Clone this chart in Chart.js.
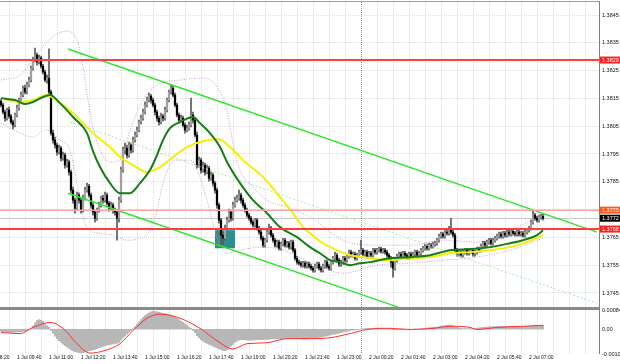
<!DOCTYPE html>
<html><head><meta charset="utf-8">
<script src="https://cdn.jsdelivr.net/npm/chart.js@4.4.1/dist/chart.umd.min.js"></script>
<style>html,body{margin:0;padding:0;background:#fff;overflow:hidden}canvas{display:block}</style>
</head><body>
<canvas id="c" width="620" height="364"></canvas>
<script>
// ---------- DATA (M5 bars, 1 Jul 09:00 .. 2 Jul 07:35) ----------
const firstBarTime = '1 Jul 09:00';
const timeTicks = ['1 Jul 08:20','1 Jul 09:40','1 Jul 11:00','1 Jul 12:20','1 Jul 13:40','1 Jul 15:00','1 Jul 16:20','1 Jul 17:40','1 Jul 19:00','1 Jul 20:20','1 Jul 21:40','1 Jul 23:00','2 Jul 00:20','2 Jul 01:40','2 Jul 03:00','2 Jul 04:20','2 Jul 05:40','2 Jul 07:00'];
const priceTicks = [1.3745,1.3755,1.3765,1.3775,1.3785,1.3795,1.3805,1.3815,1.3825,1.3835,1.3845];
const macdTicks = [-0.00108, 0, 0.00084];

const closes = [1.38126,1.38101,1.38079,1.38108,1.38086,1.38065,1.38054,1.38090,1.38115,
1.38144,1.38162,1.38187,1.38173,1.38198,1.38216,
1.38259,1.38288,1.38306,1.38281,1.38295,1.38266,
1.38245,1.38216,1.38223,1.38173,
1.38025,1.38000,1.37982,1.37957,1.37971,1.37935,1.37946,1.37910,1.37921,1.37885,
1.37820,1.37784,1.37755,1.37802,1.37784,1.37748,1.37791,1.37820,1.37834,1.37802,1.37766,1.37741,1.37719,1.37748,1.37766,1.37791,1.37784,1.37802,1.37773,1.37755,1.37766,1.37748,1.37741,1.37719,
1.37784,1.37892,1.37964,1.37971,1.37946,1.37982,1.37964,1.38000,1.38018,
1.38036,1.38065,1.38079,1.38101,1.38126,1.38144,1.38158,1.38144,1.38126,
1.38101,1.38079,1.38065,1.38086,1.38079,1.38108,
1.38144,1.38173,1.38187,1.38162,1.38126,
1.38090,1.38072,1.38079,1.38054,1.38036,1.38043,1.38054,
1.38090,1.38072,1.38018,
1.37910,1.37928,1.37892,1.37910,1.37885,1.37899,1.37863,1.37874,1.37845,1.37820,
1.37766,1.37712,1.37658,1.37647,1.37683,1.37712,1.37741,1.37719,1.37766,1.37784,1.37791,1.37802,1.37784,
1.37766,1.37748,1.37730,1.37719,1.37705,1.37694,1.37712,1.37683,1.37669,
1.37647,1.37622,1.37640,1.37669,1.37683,1.37658,
1.37640,1.37622,1.37633,1.37611,1.37626,1.37640,1.37622,1.37629,1.37615,1.37633,1.37604,
1.37575,1.37561,1.37557,1.37550,1.37557,1.37546,1.37554,1.37546,
1.37539,1.37532,1.37546,1.37554,1.37539,1.37532,1.37546,1.37561,1.37546,1.37539,
1.37561,1.37575,1.37586,1.37568,1.37554,1.37561,1.37575,1.37568,
1.37582,1.37597,1.37586,1.37590,1.37575,1.37586,1.37597,1.37604,
1.37590,1.37597,1.37582,1.37593,1.37586,1.37604,1.37597,
1.37604,1.37608,1.37600,1.37604,1.37597,1.37586,1.37575,
1.37561,1.37539,1.37568,
1.37582,1.37590,1.37582,1.37593,1.37586,1.37579,1.37590,1.37582,1.37590,1.37597,1.37586,1.37593,
1.37604,1.37611,1.37618,1.37611,1.37622,1.37618,1.37626,1.37629,
1.37640,1.37654,1.37662,1.37654,1.37669,1.37665,1.37683,1.37669,1.37658,
1.37604,
1.37590,1.37597,1.37586,1.37597,1.37604,1.37593,1.37600,1.37604,1.37590,1.37597,1.37608,1.37604,
1.37618,1.37629,1.37622,1.37633,1.37640,1.37629,1.37640,1.37647,
1.37654,1.37662,1.37654,1.37665,1.37658,1.37669,1.37662,1.37672,1.37665,1.37662,1.37669,1.37662,
1.37665,1.37658,1.37669,1.37676,1.37683,
1.37705,1.37730,1.37719,1.37712,1.37723,1.37726,1.37719];

const opens = [1.38140,1.38126,1.38101,1.38079,1.38108,1.38086,1.38065,1.38054,1.38090,
1.38115,1.38144,1.38162,1.38187,1.38173,1.38198,
1.38216,1.38259,1.38288,1.38306,1.38281,1.38295,
1.38266,1.38245,1.38216,1.38223,
1.38173,1.38025,1.38000,1.37982,1.37957,1.37971,1.37935,1.37946,1.37910,1.37921,
1.37885,1.37820,1.37784,1.37755,1.37802,1.37784,1.37748,1.37791,1.37820,1.37834,1.37802,1.37766,1.37741,1.37719,1.37748,1.37766,1.37791,1.37784,1.37802,1.37773,1.37755,1.37766,1.37748,1.37741,
1.37719,1.37784,1.37892,1.37964,1.37971,1.37946,1.37982,1.37964,1.38000,
1.38018,1.38036,1.38065,1.38079,1.38101,1.38126,1.38144,1.38158,1.38144,
1.38126,1.38101,1.38079,1.38065,1.38086,1.38079,
1.38108,1.38144,1.38173,1.38187,1.38162,
1.38126,1.38090,1.38072,1.38079,1.38054,1.38036,1.38043,
1.38054,1.38090,1.38072,
1.38018,1.37910,1.37928,1.37892,1.37910,1.37885,1.37899,1.37863,1.37874,1.37845,
1.37820,1.37766,1.37712,1.37658,1.37647,1.37683,1.37712,1.37741,1.37719,1.37766,1.37784,1.37791,1.37802,
1.37784,1.37766,1.37748,1.37730,1.37719,1.37705,1.37694,1.37712,1.37683,
1.37669,1.37647,1.37622,1.37640,1.37669,1.37683,
1.37658,1.37640,1.37622,1.37633,1.37611,1.37626,1.37640,1.37622,1.37629,1.37615,1.37633,
1.37604,1.37575,1.37561,1.37557,1.37550,1.37557,1.37546,1.37554,
1.37546,1.37539,1.37532,1.37546,1.37554,1.37539,1.37532,1.37546,1.37561,1.37546,
1.37539,1.37561,1.37575,1.37586,1.37568,1.37554,1.37561,1.37575,
1.37568,1.37582,1.37597,1.37586,1.37590,1.37575,1.37586,1.37597,
1.37604,1.37590,1.37597,1.37582,1.37593,1.37586,1.37604,
1.37597,1.37604,1.37608,1.37600,1.37604,1.37597,1.37586,
1.37575,1.37561,1.37539,
1.37568,1.37582,1.37590,1.37582,1.37593,1.37586,1.37579,1.37590,1.37582,1.37590,1.37597,1.37586,
1.37593,1.37604,1.37611,1.37618,1.37611,1.37622,1.37618,1.37626,
1.37629,1.37640,1.37654,1.37662,1.37654,1.37669,1.37665,1.37683,1.37669,
1.37658,
1.37604,1.37590,1.37597,1.37586,1.37597,1.37604,1.37593,1.37600,1.37604,1.37590,1.37597,1.37608,
1.37604,1.37618,1.37629,1.37622,1.37633,1.37640,1.37629,1.37640,
1.37647,1.37654,1.37662,1.37654,1.37665,1.37658,1.37669,1.37662,1.37672,1.37665,1.37662,1.37669,
1.37662,1.37665,1.37658,1.37669,1.37676,
1.37683,1.37705,1.37730,1.37719,1.37712,1.37723,1.37726];

const highs = [1.38147,1.38133,1.38108,1.38115,1.38119,1.38093,1.38072,1.38097,1.38126,
1.38151,1.38173,1.38194,1.38198,1.38209,1.38227,
1.38266,1.38299,1.38331,1.38313,1.38306,1.38302,
1.38273,1.38252,1.38234,1.38328,
1.38180,1.38036,1.38011,1.37989,1.37982,1.37978,1.37957,1.37953,1.37932,1.37928,
1.37892,1.37831,1.37791,1.37813,1.37809,1.37791,1.37802,1.37831,1.37845,1.37841,1.37809,1.37773,1.37748,1.37755,1.37777,1.37798,1.37802,1.37813,1.37809,1.37780,1.37777,1.37773,1.37755,1.37748,
1.37795,1.37903,1.37975,1.37989,1.37982,1.37993,1.37989,1.38011,1.38029,
1.38047,1.38072,1.38090,1.38112,1.38137,1.38155,1.38169,1.38165,1.38151,
1.38133,1.38108,1.38086,1.38097,1.38093,1.38119,
1.38151,1.38180,1.38198,1.38194,1.38169,
1.38133,1.38097,1.38090,1.38086,1.38061,1.38054,1.38065,
1.38151,1.38101,1.38079,
1.38029,1.37939,1.37935,1.37921,1.37917,1.37910,1.37906,1.37885,1.37881,1.37852,
1.37827,1.37773,1.37719,1.37669,1.37694,1.37723,1.37752,1.37748,1.37777,1.37795,1.37802,1.37820,1.37809,
1.37791,1.37773,1.37755,1.37737,1.37726,1.37712,1.37719,1.37719,1.37690,
1.37676,1.37654,1.37647,1.37676,1.37698,1.37690,
1.37665,1.37647,1.37640,1.37640,1.37633,1.37647,1.37647,1.37636,1.37636,1.37640,1.37640,
1.37611,1.37582,1.37568,1.37564,1.37564,1.37564,1.37561,1.37561,
1.37554,1.37546,1.37554,1.37561,1.37561,1.37546,1.37554,1.37568,1.37568,1.37554,
1.37568,1.37582,1.37597,1.37593,1.37575,1.37568,1.37582,1.37582,
1.37590,1.37604,1.37604,1.37597,1.37597,1.37593,1.37604,1.37640,
1.37611,1.37604,1.37604,1.37600,1.37600,1.37611,1.37611,
1.37611,1.37615,1.37615,1.37611,1.37611,1.37604,1.37593,
1.37582,1.37568,1.37575,
1.37590,1.37597,1.37597,1.37600,1.37600,1.37593,1.37597,1.37597,1.37597,1.37604,1.37604,1.37600,
1.37611,1.37618,1.37626,1.37626,1.37629,1.37629,1.37633,1.37636,
1.37647,1.37662,1.37669,1.37669,1.37676,1.37676,1.37690,1.37719,1.37676,
1.37665,
1.37611,1.37604,1.37604,1.37604,1.37611,1.37611,1.37608,1.37611,1.37611,1.37604,1.37615,1.37615,
1.37626,1.37636,1.37636,1.37640,1.37647,1.37647,1.37647,1.37654,
1.37662,1.37669,1.37669,1.37672,1.37672,1.37676,1.37676,1.37680,1.37680,1.37672,1.37676,1.37676,
1.37672,1.37672,1.37676,1.37683,1.37690,
1.37712,1.37748,1.37737,1.37726,1.37730,1.37733,1.37733];

const lows = [1.38119,1.38094,1.38068,1.38072,1.38079,1.38058,1.38040,1.38047,1.38083,
1.38108,1.38137,1.38155,1.38166,1.38166,1.38191,
1.38209,1.38252,1.38281,1.38270,1.38274,1.38259,
1.38238,1.38209,1.38205,1.38166,
1.38018,1.37989,1.37971,1.37946,1.37950,1.37924,1.37928,1.37899,1.37903,1.37874,
1.37809,1.37773,1.37737,1.37748,1.37773,1.37737,1.37741,1.37784,1.37813,1.37795,1.37755,1.37730,1.37705,1.37712,1.37741,1.37759,1.37773,1.37777,1.37766,1.37744,1.37748,1.37737,1.37730,1.37640,
1.37705,1.37777,1.37885,1.37950,1.37935,1.37939,1.37953,1.37957,1.37993,
1.38011,1.38029,1.38058,1.38072,1.38094,1.38119,1.38137,1.38133,1.38119,
1.38090,1.38068,1.38054,1.38058,1.38068,1.38072,
1.38101,1.38137,1.38166,1.38155,1.38119,
1.38083,1.38061,1.38065,1.38047,1.38025,1.38029,1.38036,
1.38047,1.38061,1.38011,
1.37899,1.37903,1.37881,1.37885,1.37874,1.37878,1.37852,1.37856,1.37834,1.37809,
1.37755,1.37701,1.37615,1.37626,1.37640,1.37676,1.37705,1.37708,1.37712,1.37759,1.37777,1.37784,1.37773,
1.37759,1.37741,1.37723,1.37712,1.37698,1.37687,1.37687,1.37676,1.37662,
1.37640,1.37615,1.37615,1.37633,1.37662,1.37651,
1.37633,1.37615,1.37615,1.37604,1.37604,1.37619,1.37615,1.37615,1.37608,1.37608,1.37597,
1.37568,1.37554,1.37550,1.37543,1.37543,1.37539,1.37539,1.37539,
1.37532,1.37525,1.37525,1.37539,1.37532,1.37525,1.37525,1.37539,1.37539,1.37532,
1.37532,1.37554,1.37568,1.37561,1.37546,1.37546,1.37554,1.37561,
1.37561,1.37575,1.37579,1.37579,1.37568,1.37568,1.37579,1.37590,
1.37582,1.37582,1.37575,1.37575,1.37579,1.37579,1.37590,
1.37590,1.37597,1.37593,1.37593,1.37590,1.37579,1.37568,
1.37543,1.37507,1.37532,
1.37561,1.37575,1.37575,1.37575,1.37579,1.37572,1.37572,1.37575,1.37575,1.37582,1.37579,1.37579,
1.37586,1.37597,1.37604,1.37604,1.37604,1.37611,1.37611,1.37618,
1.37622,1.37633,1.37647,1.37647,1.37647,1.37658,1.37658,1.37662,1.37651,
1.37597,
1.37582,1.37582,1.37579,1.37579,1.37590,1.37586,1.37586,1.37593,1.37582,1.37582,1.37590,1.37597,
1.37597,1.37611,1.37615,1.37615,1.37626,1.37622,1.37622,1.37633,
1.37640,1.37647,1.37647,1.37647,1.37651,1.37651,1.37654,1.37654,1.37658,1.37654,1.37654,1.37654,
1.37654,1.37651,1.37651,1.37662,1.37669,
1.37676,1.37698,1.37712,1.37705,1.37705,1.37716,1.37712];

// moving averages and bands: [bar, price]
const greenMA = [[0,1.38151],[7,1.38144],[12,1.38130],[16,1.38137],[21,1.38155],[24.5,1.38162],[29.5,1.38133],[36,1.38083],[43,1.38025],[46,1.37960],[49.5,1.37903],[54.5,1.37845],[59.5,1.37809],[64.5,1.37809],[69.5,1.37845],[74.5,1.37892],[78,1.37946],[81,1.38000],[84.5,1.38043],[89.5,1.38065],[96,1.38083],[99.5,1.38061],[104.5,1.38025],[109.5,1.37975],[113,1.37921],[119.5,1.37845],[126,1.37784],[133,1.37737],[139.5,1.37687],[148,1.37651],[154.5,1.37615],[159.5,1.37593],[164.5,1.37568],[169.5,1.37561],[174.5,1.37550],[179.5,1.37557],[184.5,1.37561],[194.5,1.37575],[204.5,1.37579],[214.5,1.37586],[224.5,1.37604],[234.5,1.37608],[244.5,1.37615],[254.5,1.37629],[261,1.37640],[268,1.37658],[271,1.37676]];
const yellowMA = [[0,1.38151],[9.5,1.38137],[16,1.38144],[23,1.38162],[24.5,1.38158],[36,1.38097],[46,1.38025],[54.5,1.37975],[59.5,1.37939],[66,1.37910],[73,1.37885],[79.5,1.37903],[86,1.37939],[93,1.37975],[99.5,1.37993],[108.5,1.38004],[114.5,1.37975],[121,1.37928],[131,1.37867],[139.5,1.37795],[146,1.37737],[151,1.37687],[154.5,1.37665],[161,1.37629],[168,1.37604],[174.5,1.37586],[181,1.37579],[194.5,1.37568],[204.5,1.37575],[214.5,1.37579],[224.5,1.37593],[234.5,1.37597],[244.5,1.37604],[254.5,1.37615],[263,1.37633],[271,1.37658]];
const bbUpper = [[0,1.38216],[9.5,1.38234],[19.5,1.38324],[27,1.38378],[33,1.38392],[38.5,1.38349],[41,1.38263],[43.5,1.38144],[46,1.38047],[49.5,1.37964],[54.5,1.37921],[59.5,1.37928],[64.5,1.38036],[71,1.38144],[78,1.38198],[89.5,1.38216],[101,1.38223],[108,1.38191],[113,1.38108],[116,1.37989],[119.5,1.37892],[126,1.37831],[133,1.37784],[143,1.37759],[154.5,1.37723],[171,1.37640],[188,1.37622],[204.5,1.37622],[221,1.37640],[238,1.37633],[254.5,1.37676],[271,1.37730]];
const bbLower = [[0,1.38061],[9.5,1.38025],[16,1.38011],[22,1.38036],[29.5,1.38000],[34.5,1.37964],[38,1.37845],[41,1.37723],[44.5,1.37676],[49.5,1.37665],[56,1.37658],[63,1.37640],[69.5,1.37647],[74.5,1.37676],[78,1.37748],[81,1.37845],[87,1.37928],[94.5,1.37928],[99.5,1.37867],[103,1.37784],[108,1.37651],[113,1.37593],[119.5,1.37604],[129.5,1.37615],[141,1.37604],[154.5,1.37561],[171,1.37521],[188,1.37550],[204.5,1.37557],[221,1.37568],[238,1.37579],[254.5,1.37604],[271,1.37647]];

// drawn objects: [bar, price]
const upperTrend = [[33.5,1.38328],[298,1.37669]];
const lowerTrend = [[33.5,1.37809],[198.5,1.37399]];
const midTrend = [[34.5,1.38065],[298,1.37413]];
const resistanceLevel = 1.38288;
const upperLevel = 1.37748;
const supportLevel = 1.37680;
const lastPrice = 1.37719;
const zone = {start:'1 Jul 17:55', end:'1 Jul 18:45', high:1.37676, low:1.37611};
const daySeparator = '2 Jul 00:00';

// MACD histogram per bar, and signal line [bar, value]
const macdHist = [-10e-5,-11e-5,-12e-5,-13e-5,-13e-5,-14e-5,-14e-5,-13e-5,-12e-5,-12e-5,-11e-5,-10e-5,-9e-5,
-6e-5,-2e-5,
5e-5,15e-5,28e-5,38e-5,42e-5,40e-5,35e-5,25e-5,15e-5,8e-5,
-5e-5,-18e-5,-30e-5,-40e-5,-50e-5,-58e-5,-65e-5,-72e-5,-78e-5,-84e-5,-90e-5,-95e-5,-98e-5,-100e-5,-102e-5,-103e-5,-102e-5,-100e-5,-98e-5,-95e-5,-92e-5,-90e-5,-88e-5,-85e-5,-82e-5,-78e-5,-75e-5,-72e-5,-70e-5,-68e-5,-66e-5,-64e-5,-62e-5,-62e-5,-58e-5,-48e-5,-38e-5,-30e-5,-22e-5,-14e-5,-6e-5,
2e-5,12e-5,22e-5,32e-5,42e-5,52e-5,60e-5,66e-5,72e-5,76e-5,78e-5,78e-5,76e-5,74e-5,72e-5,70e-5,68e-5,66e-5,64e-5,62e-5,58e-5,54e-5,48e-5,42e-5,36e-5,30e-5,24e-5,18e-5,10e-5,4e-5,
-5e-5,-15e-5,-28e-5,-38e-5,-46e-5,-52e-5,-58e-5,-62e-5,-66e-5,-70e-5,-74e-5,-78e-5,-82e-5,-86e-5,-90e-5,-92e-5,-93e-5,-90e-5,-82e-5,-74e-5,-66e-5,-58e-5,-52e-5,-48e-5,-46e-5,-46e-5,-47e-5,-48e-5,-48e-5,-48e-5,
-48e-5,-47e-5,-46e-5,-46e-5,-45e-5,-45e-5,-44e-5,-44e-5,-43e-5,-43e-5,-42e-5,-42e-5,-42e-5,-41e-5,-41e-5,-40e-5,-40e-5,-40e-5,-40e-5,-40e-5,-40e-5,-41e-5,-41e-5,-41e-5,-42e-5,-42e-5,-42e-5,-42e-5,-41e-5,
-40e-5,-39e-5,-38e-5,-37e-5,-36e-5,-35e-5,-33e-5,-31e-5,-29e-5,-27e-5,-25e-5,-23e-5,-21e-5,-19e-5,-17e-5,-15e-5,-13e-5,-11e-5,-9e-5,-7e-5,-5e-5,-4e-5,-3e-5,-2e-5,-1e-5,
1e-5,2e-5,3e-5,3e-5,4e-5,4e-5,4e-5,5e-5,5e-5,5e-5,5e-5,4e-5,3e-5,2e-5,1e-5,
0,-2e-5,-3e-5,-3e-5,-2e-5,-2e-5,-1e-5,-1e-5,-1e-5,0,0,0,
1e-5,1e-5,2e-5,3e-5,4e-5,5e-5,6e-5,6e-5,7e-5,8e-5,9e-5,10e-5,12e-5,14e-5,15e-5,16e-5,17e-5,18e-5,18e-5,
16e-5,12e-5,8e-5,6e-5,4e-5,3e-5,3e-5,3e-5,3e-5,3e-5,3e-5,
4e-5,5e-5,6e-5,7e-5,8e-5,9e-5,10e-5,11e-5,11e-5,12e-5,12e-5,12e-5,13e-5,13e-5,13e-5,13e-5,13e-5,13e-5,13e-5,13e-5,
12e-5,12e-5,12e-5,12e-5,12e-5,12e-5,13e-5,13e-5,14e-5,15e-5,16e-5,16e-5,17e-5,17e-5,17e-5];
const macdSignal = [[0,-14e-5],[9.5,-19e-5],[16,8e-5],[24.5,30e-5],[31,4e-5],[38,-63e-5],[44.5,-104e-5],[51,-95e-5],[59.5,-63e-5],[66,-5e-5],[73,48e-5],[79.5,66e-5],[89.5,48e-5],[99.5,4e-5],[108,-50e-5],[116,-86e-5],[123,-63e-5],[133,-59e-5],[143,-41e-5],[154.5,-41e-5],[164.5,-37e-5],[174.5,-19e-5],[183,-1e-5],[194.5,4e-5],[204.5,-1e-5],[216,4e-5],[224.5,13e-5],[234.5,8e-5],[238,-1e-5],[248,8e-5],[261,13e-5],[271,17e-5]];

// ---------- helpers ----------
function minutesOf(t){ const p = t.split(' '); const hm = p[2].split(':'); return (+p[0]-1)*1440 + (+hm[0])*60 + (+hm[1]); }
function barOf(t){ return (minutesOf(t) - minutesOf(firstBarTime)) / 5; }
const pts = a => a.map(p => ({x:p[0], y:p[1]}));
const X_MIN = -0.5, X_MAX = 299;
const Y_MAX = 1.384968, Y_MIN = 1.373888;
const labelAt = {}; timeTicks.forEach(t => { labelAt[barOf(t)] = t; });
const FONT = 'Liberation Sans';

const overlay = {
  id: 'overlay',
  beforeDatasetsDraw(chart){
    const {ctx, chartArea:a, scales:{x, y}} = chart;
    ctx.save();
    const yp = Math.round(y.getPixelForValue(lastPrice)) + 0.5;
    ctx.strokeStyle = '#c8c8c8'; ctx.lineWidth = 1;
    ctx.beginPath(); ctx.moveTo(a.left, yp); ctx.lineTo(a.right, yp); ctx.stroke();
    const x0 = x.getPixelForValue(barOf(zone.start)), x1 = x.getPixelForValue(barOf(zone.end));
    const y0 = y.getPixelForValue(zone.high), y1 = y.getPixelForValue(zone.low);
    ctx.fillStyle = '#2f8d8d';
    ctx.fillRect(x0, y0, x1 - x0, y1 - y0);
    const xd = Math.round(x.getPixelForValue(barOf(daySeparator))) + 0.5;
    ctx.strokeStyle = '#909090'; ctx.setLineDash([1,1]);
    ctx.beginPath(); ctx.moveTo(xd, a.top); ctx.lineTo(xd, a.bottom); ctx.stroke();
    ctx.restore();
  },
  afterDatasetsDraw(chart){
    const {ctx, chartArea:a, scales:{y}} = chart;
    ctx.save();
    const hline = (v, color, w) => { const yy = y.getPixelForValue(v); ctx.strokeStyle = color; ctx.lineWidth = w; ctx.beginPath(); ctx.moveTo(a.left, yy); ctx.lineTo(a.right, yy); ctx.stroke(); };
    hline(upperLevel, '#f7a8a0', 1.5);
    hline(resistanceLevel, '#ff4040', 2);
    hline(supportLevel, '#ff3c3c', 2);
    const sepTop = y.bottom - 3;
    ctx.fillStyle = '#8a8a8a';
    ctx.fillRect(a.left, sepTop, a.right - a.left, 3);
    ctx.strokeStyle = '#a0a0a0'; ctx.lineWidth = 1;
    ctx.beginPath(); ctx.moveTo(a.left, a.top - 0.5); ctx.lineTo(a.right, a.top - 0.5); ctx.stroke();
    ctx.strokeStyle = '#808080';
    ctx.beginPath(); ctx.moveTo(a.right + 0.5, a.top - 1); ctx.lineTo(a.right + 0.5, a.bottom); ctx.stroke();
    ctx.restore();
  },
  afterDraw(chart){
    const {ctx, chartArea:a, scales:{y}} = chart;
    ctx.save();
    ctx.font = '5.5px ' + FONT; ctx.textBaseline = 'middle';
    const tag = (v, bg) => { const yy = y.getPixelForValue(v); ctx.fillStyle = bg; ctx.fillRect(a.right + 1, yy - 3.5, 20, 7); ctx.fillStyle = '#fff'; ctx.fillText(v.toFixed(4), a.right + 3, yy + 0.3); };
    tag(resistanceLevel, '#ff2020');
    tag(upperLevel, '#ff5a1e');
    tag(lastPrice, '#000000');
    tag(supportLevel, '#ff2020');
    ctx.restore();
  }
};

const tickFont = {family: FONT, size: 5.5};
new Chart(document.getElementById('c'), {
  data: { datasets: [
    {type:'line', data:pts(bbUpper), yAxisID:'y', borderColor:'#c79ddb', borderWidth:1, borderDash:[1,1.5], pointRadius:0, cubicInterpolationMode:'monotone', order:10},
    {type:'line', data:pts(bbLower), yAxisID:'y', borderColor:'#c79ddb', borderWidth:1, borderDash:[1,1.5], pointRadius:0, cubicInterpolationMode:'monotone', order:10},
    {type:'bar', data:closes.map((c,k)=>({x:k, y:[lows[k], highs[k]]})), yAxisID:'y', backgroundColor:'#5a5a5a', barThickness:1, grouped:false, order:9},
    {type:'bar', data:closes.map((c,k)=>({x:k, y:[opens[k], c]})), yAxisID:'y', backgroundColor:closes.map((c,k)=> c >= opens[k] ? '#a0a0a0' : '#000000'), barThickness:1.6, minBarLength:1, grouped:false, order:8},
    {type:'bar', data:macdHist.map((v,k)=>({x:k, y:v})), yAxisID:'y2', backgroundColor:'#a9a9a9', barThickness:1, grouped:false, order:7},
    {type:'line', data:pts(midTrend), yAxisID:'y', borderColor:'#a6eea6', borderWidth:1, borderDash:[2,2], pointRadius:0, order:6},
    {type:'line', data:pts(upperTrend), yAxisID:'y', borderColor:'#2ee62e', borderWidth:1.5, pointRadius:0, order:5},
    {type:'line', data:pts(lowerTrend), yAxisID:'y', borderColor:'#2ee62e', borderWidth:1.5, pointRadius:0, order:5},
    {type:'line', data:pts(yellowMA), yAxisID:'y', borderColor:'#f4f000', borderWidth:2, pointRadius:0, cubicInterpolationMode:'monotone', order:3},
    {type:'line', data:pts(greenMA), yAxisID:'y', borderColor:'#167c16', borderWidth:2, pointRadius:0, cubicInterpolationMode:'monotone', order:2},
    {type:'line', data:pts(macdSignal), yAxisID:'y2', borderColor:'#ff3030', borderWidth:1, pointRadius:0, cubicInterpolationMode:'monotone', order:1}
  ]},
  options: {
    responsive:false, animation:false, devicePixelRatio:1,
    layout:{padding:{left:0, right:0, top:2, bottom:0}},
    plugins:{legend:{display:false}, tooltip:{enabled:false}},
    scales:{
      x:{type:'linear', min:X_MIN, max:X_MAX, offset:false,
        afterBuildTicks: s => { const t = []; for (let k = barOf(timeTicks[0]); k <= X_MAX; k += 8) t.push({value:k}); s.ticks = t; },
        afterFit: s => { s.height = 10; s.paddingLeft = 0; s.paddingRight = 0; },
        grid:{color:'#dedede', lineWidth:1, drawTicks:false},
        border:{display:false, dash:[1,1]},
        ticks:{autoSkip:false, maxRotation:0, minRotation:0, align:'start', padding:1, color:'#111', font:{family:FONT, size:5}, callback: v => labelAt[v] || ''}
      },
      y:{type:'linear', position:'right', stack:'win', stackWeight:308, min:Y_MIN, max:Y_MAX,
        afterBuildTicks: s => { s.ticks = priceTicks.map(v => ({value:v})); },
        afterFit: s => { s.width = 21; s.paddingTop = 0; s.paddingBottom = 0; },
        grid:{color:'#dedede', lineWidth:1, drawTicks:false},
        border:{display:false, dash:[1,1]},
        ticks:{padding:3, color:'#111', font:tickFont, callback: v => v.toFixed(4)}
      },
      y2:{type:'linear', position:'right', stack:'win', stackWeight:44, min:macdTicks[0], max:macdTicks[2],
        afterBuildTicks: s => { s.ticks = macdTicks.map(v => ({value:v})); },
        afterFit: s => { s.width = 21; s.paddingTop = 0; s.paddingBottom = 0; },
        grid:{display:false, drawTicks:false},
        border:{display:false},
        ticks:{padding:3, color:'#111', font:tickFont, callback: v => v === 0 ? '0.00' : v.toFixed(5)}
      }
    }
  },
  plugins:[overlay]
});
</script>
</body></html>
